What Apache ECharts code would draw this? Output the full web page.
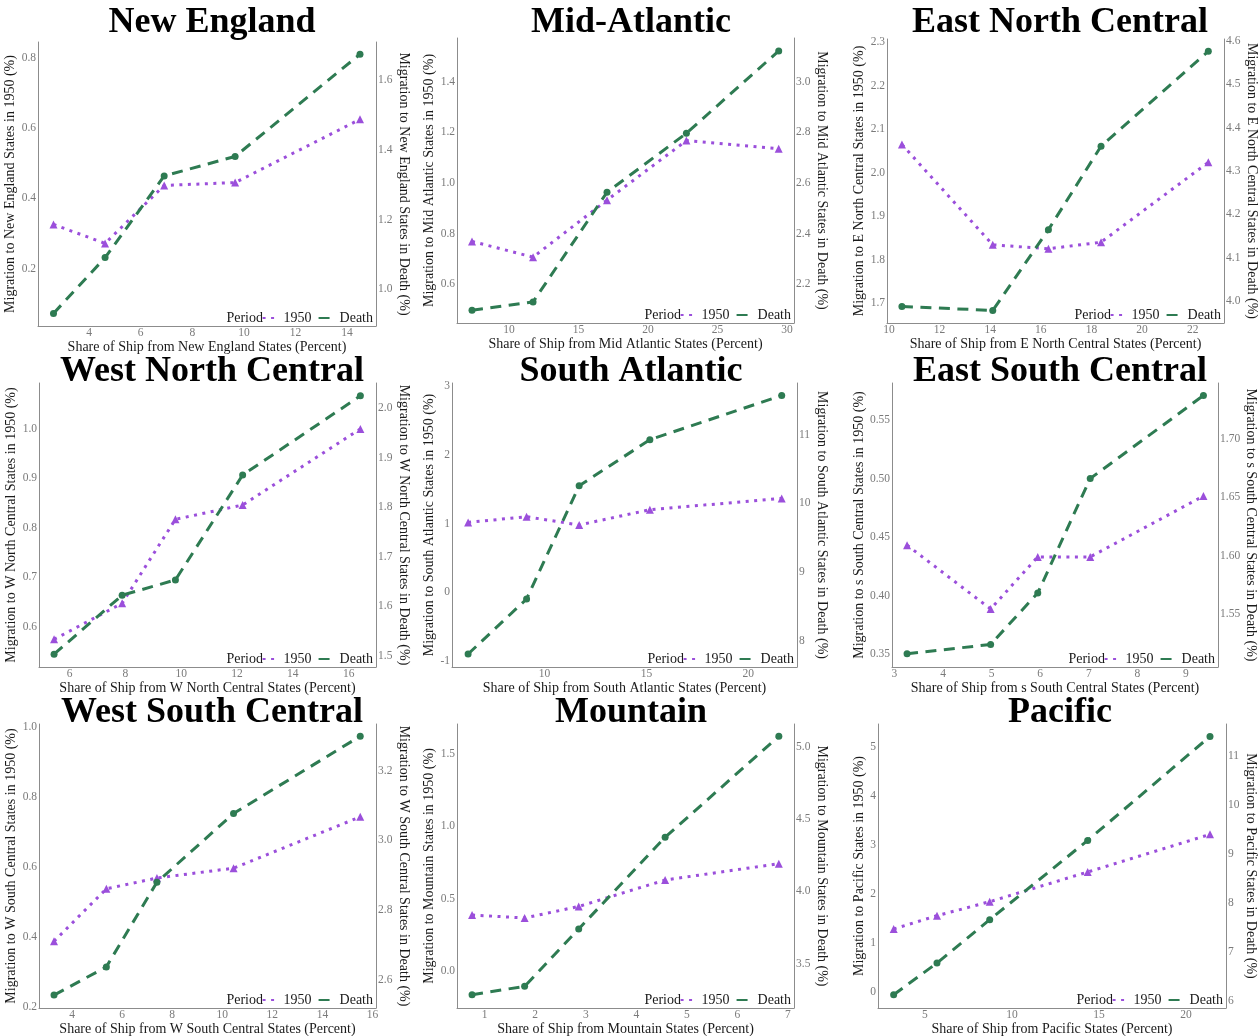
<!DOCTYPE html>
<html lang="en" style="height: 100%">
<head>
  <meta charset="utf-8">
</head>
<body style="height: 100%; margin: 0">
  <div id="container" style="width: 1258px; height: 1036px;"></div>

  <script type="text/javascript" src="https://fastly.jsdelivr.net/npm/echarts@6.0.0/dist/echarts.min.js"></script>

  <script type="text/javascript">
    // panel titles and the state group used in the axis names
    var regions = ['New England', 'Mid-Atlantic', 'East North Central',
                   'West North Central', 'South Atlantic', 'East South Central',
                   'West South Central', 'Mountain', 'Pacific'];
    var stateNames = ['New England', 'Mid Atlantic', 'E North Central',
                      'W North Central', 'South Atlantic', 's South Central',
                      'W South Central', 'Mountain', 'Pacific'];

    // share of ship (x) for the five points of each panel
    var shareX = [
      [2.62, 4.62, 6.91, 9.66, 14.5],
      [7.34, 11.73, 17.05, 22.76, 29.4],
      [10.51, 14.10, 16.30, 18.38, 22.62],
      [5.44, 7.88, 9.79, 12.20, 16.42],
      [6.25, 9.12, 11.70, 15.17, 21.64],
      [3.26, 4.98, 5.95, 7.03, 9.36],
      [3.28, 5.37, 7.39, 10.45, 15.51],
      [0.75, 1.79, 2.86, 4.57, 6.82],
      [3.20, 5.69, 8.72, 14.35, 21.38]
    ];
    // migration in 1950 (left axis)
    var mig1950 = [
      [0.326, 0.272, 0.437, 0.445, 0.625],
      [0.769, 0.707, 0.932, 1.167, 1.135],
      [2.065, 1.834, 1.825, 1.840, 2.024],
      [0.574, 0.647, 0.817, 0.846, 1.000],
      [1.017, 1.100, 0.979, 1.202, 1.367],
      [0.443, 0.3885, 0.433, 0.433, 0.485],
      [0.387, 0.537, 0.568, 0.596, 0.743],
      [0.386, 0.365, 0.445, 0.628, 0.741],
      [1.288, 1.560, 1.846, 2.453, 3.222]
    ];
    // migration in death (right axis)
    var migDeath = [
      [0.931, 1.091, 1.325, 1.381, 1.674],
      [2.097, 2.130, 2.563, 2.796, 3.121],
      [3.988, 3.979, 4.165, 4.357, 4.576],
      [1.503, 1.622, 1.653, 1.865, 2.025],
      [7.806, 8.607, 10.257, 10.927, 11.572],
      [1.516, 1.524, 1.568, 1.666, 1.737],
      [2.556, 2.637, 2.880, 3.077, 3.299],
      [3.285, 3.343, 3.740, 4.375, 5.074],
      [6.123, 6.770, 7.655, 9.276, 11.40]
    ];

    // tick labels
    var xTicks = [
      ['4', '6', '8', '10', '12', '14'],
      ['10', '15', '20', '25', '30'],
      ['10', '12', '14', '16', '18', '20', '22'],
      ['6', '8', '10', '12', '14', '16'],
      ['10', '15', '20'],
      ['3', '4', '5', '6', '7', '8', '9'],
      ['4', '6', '8', '10', '12', '14', '16'],
      ['1', '2', '3', '4', '5', '6', '7'],
      ['5', '10', '15', '20']
    ];
    var leftTicks = [
      ['0.2', '0.4', '0.6', '0.8'],
      ['0.6', '0.8', '1.0', '1.2', '1.4'],
      ['1.7', '1.8', '1.9', '2.0', '2.1', '2.2', '2.3'],
      ['0.6', '0.7', '0.8', '0.9', '1.0'],
      ['-1', '0', '1', '2', '3'],
      ['0.35', '0.40', '0.45', '0.50', '0.55'],
      ['0.2', '0.4', '0.6', '0.8', '1.0'],
      ['0.0', '0.5', '1.0', '1.5'],
      ['0', '1', '2', '3', '4', '5']
    ];
    var rightTicks = [
      ['1.0', '1.2', '1.4', '1.6'],
      ['2.2', '2.4', '2.6', '2.8', '3.0'],
      ['4.0', '4.1', '4.2', '4.3', '4.4', '4.5', '4.6'],
      ['1.5', '1.6', '1.7', '1.8', '1.9', '2.0'],
      ['8', '9', '10', '11'],
      ['1.55', '1.60', '1.65', '1.70'],
      ['2.6', '2.8', '3.0', '3.2'],
      ['3.5', '4.0', '4.5', '5.0'],
      ['6', '7', '8', '9', '10', '11']
    ];

    // axis extents
    var xRange = [[2.02, 15.12], [6.26, 30.5], [9.92, 23.24], [4.90, 16.98], [5.46, 22.39],
                  [2.95, 9.66], [2.68, 16.14], [0.452, 7.12], [2.30, 22.3]];
    var leftRange = [[0.037, 0.845], [0.447, 1.572], [1.654, 2.308], [0.518, 1.093], [-1.092, 3.05],
                     [0.3389, 0.5816], [0.196, 1.0086], [-0.258, 1.708], [-0.327, 5.478]];
    var rightRange = [[0.895, 1.709], [2.047, 3.172], [3.950, 4.604], [1.477, 2.051], [7.617, 11.753],
                      [1.5047, 1.7477], [2.519, 3.334], [3.193, 5.159], [5.851, 11.654]];

    // layout: plot box [left, top, right, bottom] in px, title centre, name gaps
    var boxes = [
      [38, 42, 376, 326], [457, 38, 794, 323], [887, 39, 1224, 323],
      [39, 383, 376, 667], [452, 383, 797, 667], [892, 383, 1218, 667],
      [39, 724, 376, 1008], [457, 724, 794, 1008], [878, 724, 1226, 1008]
    ];
    var titleX = [207, 626, 1055];
    var titleTop = [0, 349, 690];
    var leftGap = [17, 17, 17, 18, 12, 22, 18, 17, 10];
    var rightGap = [17, 18, 16, 17, 14, 22, 16, 16, 15];

    var purple = '#9b4fdb';
    var green = '#2e7b52';
    var serif = '"Liberation Serif", "DejaVu Serif", serif';
    var W = 1258;

    var dom = document.getElementById('container');
    var myChart = echarts.init(dom, null, {renderer: 'canvas'});

    function labelFor(list) {
      return function (v) {
        for (var k = 0; k < list.length; k++) {
          if (Math.abs(parseFloat(list[k]) - v) < 1e-9) return list[k];
        }
        return '';
      };
    }

    var titles = [], grids = [], xAxes = [], yAxes = [], series = [], legends = [], graphics = [];

    for (var i = 0; i < 9; i++) {
      var b = boxes[i];
      titles.push({
        text: regions[i],
        left: titleX[i % 3],
        top: titleTop[Math.floor(i / 3)],
        textAlign: 'center',
        textStyle: {fontFamily: serif, fontWeight: 'bold', fontSize: 36, color: '#000'}
      });
      grids.push({
        left: b[0], top: b[1], width: b[2] - b[0], height: b[3] - b[1],
        containLabel: false, outerBoundsMode: 'none'
      });
      var axisLine = {show: true, onZero: false, lineStyle: {color: '#8c8c8c', width: 1}};
      var tickLabel = {color: '#7a7a7a', fontFamily: serif, fontSize: 11.5};
      xAxes.push({
        type: 'value', gridIndex: i,
        min: xRange[i][0], max: xRange[i][1],
        name: 'Share of Ship from ' + stateNames[i] + ' States (Percent)',
        nameLocation: 'middle', nameGap: 11,
        nameTextStyle: {fontFamily: serif, fontSize: 14, color: '#1a1a1a'},
        axisLine: axisLine, axisTick: {show: false}, splitLine: {show: false},
        axisLabel: Object.assign({margin: 1, customValues: xTicks[i].map(Number),
                                  formatter: labelFor(xTicks[i])}, tickLabel)
      });
      yAxes.push({
        type: 'value', gridIndex: i, position: 'left',
        min: leftRange[i][0], max: leftRange[i][1],
        name: 'Migration to ' + stateNames[i] + ' States in 1950 (%)',
        nameLocation: 'middle', nameGap: leftGap[i], nameRotate: 90,
        nameTextStyle: {fontFamily: serif, fontSize: 14, color: '#1a1a1a'},
        axisLine: axisLine, axisTick: {show: false}, splitLine: {show: false},
        axisLabel: Object.assign({margin: 2, customValues: leftTicks[i].map(Number),
                                  formatter: labelFor(leftTicks[i])}, tickLabel)
      });
      yAxes.push({
        type: 'value', gridIndex: i, position: 'right',
        min: rightRange[i][0], max: rightRange[i][1],
        name: 'Migration to ' + stateNames[i] + ' States in Death (%)',
        nameLocation: 'middle', nameGap: rightGap[i], nameRotate: -90,
        nameTextStyle: {fontFamily: serif, fontSize: 14, color: '#1a1a1a'},
        axisLine: axisLine, axisTick: {show: false}, splitLine: {show: false},
        axisLabel: Object.assign({margin: 2, customValues: rightTicks[i].map(Number),
                                  formatter: labelFor(rightTicks[i])}, tickLabel)
      });

      series.push({
        name: '1950', type: 'line', xAxisIndex: i, yAxisIndex: 2 * i,
        data: shareX[i].map(function (x, k) { return [x, mig1950[this][k]]; }, i),
        symbol: 'triangle', symbolSize: 8,
        lineStyle: {color: purple, width: 3, type: [3, 5.5]},
        itemStyle: {color: purple},
        animation: false
      });
      series.push({
        name: 'Death', type: 'line', xAxisIndex: i, yAxisIndex: 2 * i + 1,
        data: shareX[i].map(function (x, k) { return [x, migDeath[this][k]]; }, i),
        symbol: 'circle', symbolSize: 7,
        lineStyle: {color: green, width: 3, type: [11, 7.5]},
        itemStyle: {color: green},
        animation: false
      });

      var legRight = W - b[2] + 3;
      legends.push({
        data: ['1950', 'Death'],
        right: legRight, top: b[3] - 15,
        padding: 0, itemGap: 6, itemWidth: 16, itemHeight: 14,
        itemStyle: {opacity: 0},
        selectedMode: false,
        textStyle: {fontFamily: serif, fontSize: 14, color: '#1a1a1a'}
      });
      graphics.push({
        type: 'text', right: legRight + 110, top: b[3] - 15,
        style: {text: 'Period', font: '14px ' + serif, fill: '#1a1a1a'}
      });
    }

    var option = {
      backgroundColor: '#fff',
      animation: false,
      title: titles,
      grid: grids,
      xAxis: xAxes,
      yAxis: yAxes,
      legend: legends,
      graphic: graphics,
      series: series
    };

    myChart.setOption(option);
    window.addEventListener('resize', myChart.resize);
  </script>
</body>
</html>
